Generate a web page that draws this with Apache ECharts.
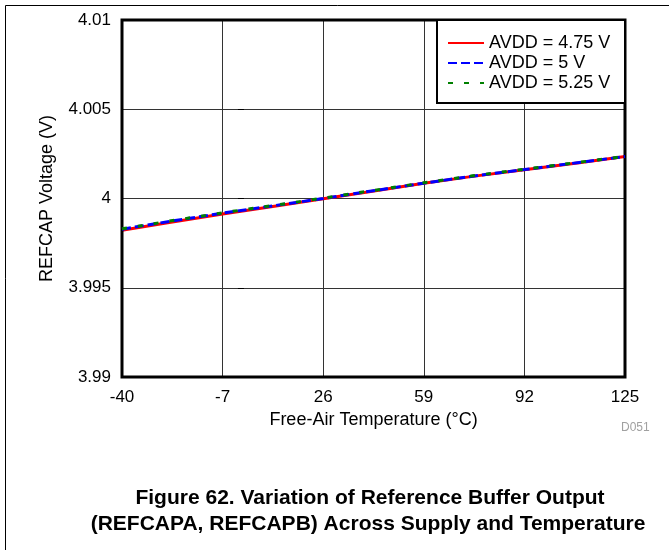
<!DOCTYPE html>
<html><head><meta charset="utf-8">
<script src="https://cdn.jsdelivr.net/npm/echarts@6/dist/echarts.min.js"></script>
<style>html,body{margin:0;padding:0;background:#fff}#c{width:669px;height:550px}</style>
</head><body><div id="c"></div>
<script>
const temps = [-40, -25, -7, 10, 26, 40, 59, 75, 92, 110, 125];
const avdd475 = [3.99822, 3.99864, 3.99913, 3.99957, 3.99998, 4.00035, 4.00085, 4.00124, 4.00161, 4.00200, 4.00235];
const avdd500 = [3.99828, 3.99870, 3.99918, 3.99960, 4.00000, 4.00037, 4.00086, 4.00125, 4.00162, 4.00202, 4.00235];
const avdd525 = [3.99830, 3.99872, 3.99920, 3.99962, 4.00002, 4.00039, 4.00088, 4.00127, 4.00164, 4.00203, 4.00236];
const xTicks = [-40, -7, 26, 59, 92, 125];
const seriesNames = ['AVDD = 4.75 V', 'AVDD = 5 V', 'AVDD = 5.25 V'];
const FONT = '"Liberation Sans", Arial, sans-serif';
const pair = arr => temps.map((t, i) => [t, arr[i]]);

const chart = echarts.init(document.getElementById('c'), null, {renderer: 'canvas'});
chart.setOption({
  animation: false,
  backgroundColor: '#fff',
  textStyle: {fontFamily: FONT},
  grid: {left: 122, right: 44, top: 20, bottom: 173, show: true, borderColor: '#000', borderWidth: 3, z: 3},
  xAxis: {
    type: 'value', min: -40, max: 125,
    axisLine: {show: false},
    axisTick: {show: false, customValues: xTicks},
    splitLine: {show: true, lineStyle: {color: '#333', width: 1}},
    axisLabel: {customValues: xTicks, color: '#000', fontSize: 17, fontFamily: FONT, margin: 12},
    name: 'Free-Air Temperature (°C)', nameLocation: 'middle', nameGap: 34,
    nameTextStyle: {color: '#000', fontSize: 18, fontFamily: FONT}
  },
  yAxis: {
    type: 'value', min: 3.99, max: 4.01, interval: 0.005,
    axisLine: {show: false},
    axisTick: {show: true, length: 6, lineStyle: {color: '#000', width: 1}},
    splitLine: {show: true, lineStyle: {color: '#333', width: 1}},
    axisLabel: {color: '#000', fontSize: 17, fontFamily: FONT, margin: 11,
      formatter: v => String(parseFloat(v.toFixed(3)))},
    name: 'REFCAP Voltage (V)', nameLocation: 'middle', nameGap: 66,
    nameTextStyle: {color: '#000', fontSize: 18, fontFamily: FONT}
  },
  legend: {
    left: 447, top: 34, orient: 'vertical', itemWidth: 36, itemHeight: 18, itemGap: 2,
    padding: 0, textStyle: {color: '#000', fontSize: 18, fontFamily: FONT},
    itemStyle: {opacity: 0},
    data: seriesNames, z: 10
  },
  graphic: [
    {type: 'rect', shape: {x: 5.5, y: 5.5, width: 700, height: 600}, style: {fill: 'none', stroke: '#000', lineWidth: 1}, z: 0},
    {type: 'rect', shape: {x: 437, y: 20, width: 188, height: 83}, style: {fill: '#fff', stroke: '#000', lineWidth: 2}, z: 5},
    {type: 'text', x: 621, y: 428, style: {text: 'D051', fill: '#a0a0a0', font: '12px ' + FONT, textVerticalAlign: 'middle'}},
    {type: 'text', x: 370, y: 498, style: {text: 'Figure 62. Variation of Reference Buffer Output', fill: '#000', font: 'bold 21px ' + FONT, textAlign: 'center', textVerticalAlign: 'middle'}},
    {type: 'text', x: 368, y: 524, style: {text: '(REFCAPA, REFCAPB) Across Supply and Temperature', fill: '#000', font: 'bold 21px ' + FONT, textAlign: 'center', textVerticalAlign: 'middle'}}
  ],
  series: [
    {name: seriesNames[0], type: 'line', data: pair(avdd475), showSymbol: false, symbol: 'none', z: 2,
      lineStyle: {color: '#ff0000', width: 3}, itemStyle: {color: '#ff0000'}},
    {name: seriesNames[1], type: 'line', data: pair(avdd500), showSymbol: false, symbol: 'none', z: 3,
      lineStyle: {color: '#0000ff', width: 3, type: [9, 4]}, itemStyle: {color: '#0000ff'}},
    {name: seriesNames[2], type: 'line', data: pair(avdd525), showSymbol: false, symbol: 'none', z: 4,
      lineStyle: {color: '#008000', width: 3, type: [5, 11]}, itemStyle: {color: '#008000'}}
  ]
});
</script></body></html>
